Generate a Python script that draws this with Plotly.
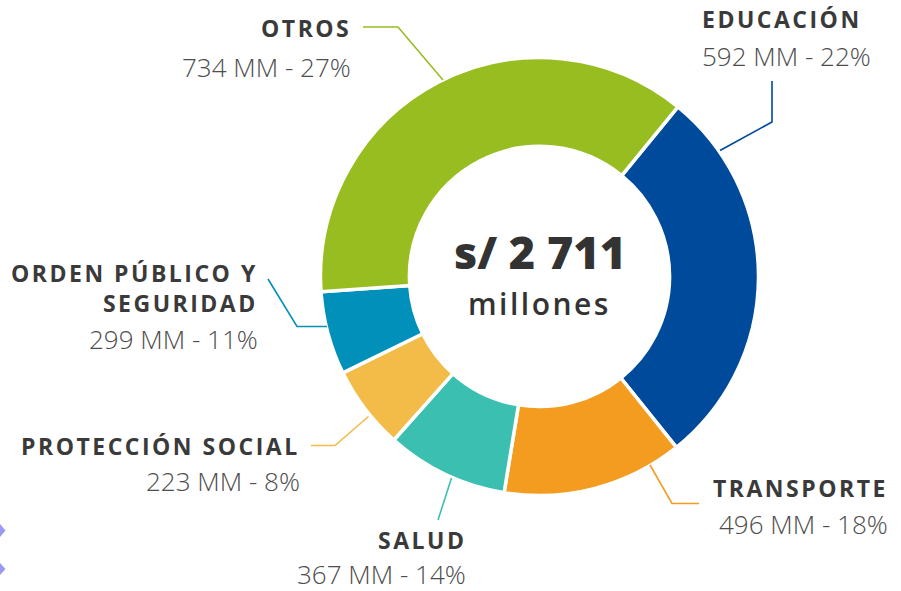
import plotly.graph_objects as go

# ---- data ----
categorias = ["EDUCACIÓN", "TRANSPORTE", "SALUD", "PROTECCIÓN SOCIAL", "ORDEN PÚBLICO Y SEGURIDAD", "OTROS"]
montos_mm = [592, 496, 367, 223, 299, 734]
porcentajes = [22, 18, 14, 8, 11, 27]
# arc sizes (degrees) as actually drawn in the reference graphic
arco_dibujado = [102.1, 48.0, 32.4, 22.2, 22.1, 133.2]
colores = ["#004A9C", "#F39C20", "#3BBFB0", "#F3BB48", "#0090B9", "#97BD20"]
total_texto = "s/ 2 711"
unidad_texto = "millones"

W, H = 901, 591
CX, CY, R = 539.5, 276.5, 219.0

def px(x, y):
    return x / W, 1 - y / H

def spaced(t, s):
    return f'<span style="letter-spacing:{s}px">{t}</span>'

fig = go.Figure()
fig.add_trace(go.Pie(
    labels=categorias,
    values=arco_dibujado,
    sort=False,
    direction="clockwise",
    rotation=39.2,
    hole=0.594,
    marker=dict(colors=colores, line=dict(color="white", width=3.5)),
    textinfo="none",
    hoverinfo="label",
    showlegend=False,
    domain=dict(x=[(CX - R) / W, (CX + R) / W], y=[1 - (CY + R) / H, 1 - (CY - R) / H]),
))

BOLD = dict(family="Open Sans", size=23, color="#3a3a3a", weight=700)
LIGHT = dict(family="Open Sans", size=26, color="#4d4d4d", weight=300)

def fmt(i):
    return f"{montos_mm[i]} MM - {porcentajes[i]}%"

# (name text, value text, x, y_name, y_value, anchor)
etiquetas = [
    ("EDUCACIÓN", fmt(0), 700, 19, 56, "left"),
    ("TRANSPORTE", fmt(1), 890, 488, 524, "right"),
    ("SALUD", fmt(2), 468, 540, 574, "right"),
    ("PROTECCIÓN SOCIAL", fmt(3), 302, 446, 481, "right"),
    ("ORDEN PÚBLICO Y<br>SEGURIDAD", fmt(4), 260, 288, 339, "right"),
    ("OTROS", fmt(5), 353, 28, 67, "right"),
]
annotations = []
for nombre, valor, x, yn, yv, anc in etiquetas:
    ax, ayn = px(x, yn)
    _, ayv = px(x, yv)
    nombre_html = "<br>".join(spaced(p, 2.5) for p in nombre.split("<br>"))
    annotations.append(dict(text=nombre_html, x=ax, y=ayn, xref="paper", yref="paper",
                            xanchor=anc, yanchor="middle", align=anc, showarrow=False, font=BOLD))
    annotations.append(dict(text=valor, x=ax, y=ayv, xref="paper", yref="paper",
                            xanchor=anc, yanchor="middle", align=anc, showarrow=False, font=LIGHT))

cx, cy1 = px(CX, 252)
_, cy2 = px(CX, 304)
annotations.append(dict(text=total_texto, x=cx, y=cy1, xref="paper", yref="paper",
                        xanchor="center", yanchor="middle", showarrow=False,
                        font=dict(family="Open Sans", size=45, color="#333333", weight=800)))
annotations.append(dict(text=spaced(unidad_texto, 2.5), x=cx, y=cy2, xref="paper", yref="paper",
                        xanchor="center", yanchor="middle", showarrow=False,
                        font=dict(family="Open Sans", size=30, color="#333333", weight=600)))

# leader lines (pixel polylines)
lideres = [
    ([(363, 27), (398, 27), (443, 80)], colores[5]),
    ([(772, 81), (772, 122), (720, 150.5)], colores[0]),
    ([(268, 279), (297, 326.5), (327, 326.5)], colores[4]),
    ([(311, 445.5), (335, 445.5), (368.5, 416.5)], colores[3]),
    ([(438, 520), (451.5, 478)], colores[2]),
    ([(650, 465), (672, 503.5), (699, 503.5)], colores[1]),
]
shapes = []
for pts, col in lideres:
    path = ""
    for k, (x, y) in enumerate(pts):
        X, Y = px(x, y)
        path += ("M" if k == 0 else "L") + f"{X},{Y} "
    shapes.append(dict(type="path", path=path, xref="paper", yref="paper",
                       line=dict(color=col, width=1.6)))

# small lavender chevron tips at left edge
for (y0, y1) in [(524, 537), (563, 575)]:
    ym = (y0 + y1) / 2
    a, b = px(0, y0); c, d = px(5.5, ym); e, f = px(0, y1)
    shapes.append(dict(type="path", path=f"M{a},{b} L{c},{d} L{e},{f} Z", xref="paper", yref="paper",
                       fillcolor="#9A9AF2", line=dict(width=0)))

fig.update_layout(
    width=W, height=H,
    margin=dict(l=0, r=0, t=0, b=0),
    paper_bgcolor="white", plot_bgcolor="white",
    annotations=annotations, shapes=shapes,
)
fig.write_html("out.html", config={"displayModeBar": False},
               post_script="document.body.style.margin='0';document.body.style.overflow='hidden';")
